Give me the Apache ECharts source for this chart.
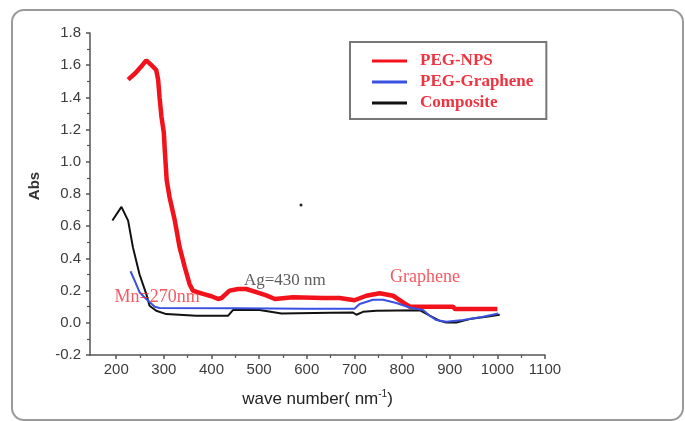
<!DOCTYPE html>
<html>
<head>
<meta charset="utf-8">
<script src="https://cdn.jsdelivr.net/npm/echarts@6/dist/echarts.min.js"></script>
<style>
html,body{margin:0;padding:0;background:#fff;}
#chart{width:685px;height:421px;}
</style>
</head>
<body>
<div id="chart"></div>
<script>
// ---- data ----
const pegNpsX = [225, 240, 252, 263, 274, 284, 288, 291, 295, 300, 302, 306, 312, 323, 333, 344, 354, 361, 382, 400, 414, 421, 438, 456, 473, 494, 515, 533, 571, 634, 669, 700, 725, 753, 781, 802, 816, 907, 911, 1000];
const pegNpsY = [1.51, 1.55, 1.59, 1.63, 1.60, 1.57, 1.51, 1.40, 1.28, 1.18, 1.07, 0.885, 0.78, 0.635, 0.47, 0.345, 0.24, 0.20, 0.18, 0.165, 0.148, 0.154, 0.20, 0.21, 0.21, 0.19, 0.17, 0.148, 0.158, 0.154, 0.154, 0.14, 0.168, 0.183, 0.168, 0.127, 0.10, 0.10, 0.085, 0.085];

const pegGrapheneX = [230, 239, 249, 263, 281, 291, 450, 600, 700, 711, 739, 760, 788, 816, 844, 858, 872, 893, 928, 970, 1002];
const pegGrapheneY = [0.32, 0.26, 0.19, 0.148, 0.10, 0.092, 0.09, 0.088, 0.087, 0.117, 0.143, 0.143, 0.123, 0.095, 0.079, 0.044, 0.017, 0.006, 0.017, 0.037, 0.058];

const compositeX = [192, 211, 225, 235, 249, 263, 270, 284, 305, 368, 435, 445, 501, 547, 650, 697, 704, 718, 746, 837, 858, 879, 893, 914, 942, 977, 1005];
const compositeY = [0.635, 0.72, 0.635, 0.47, 0.30, 0.18, 0.106, 0.075, 0.054, 0.044, 0.044, 0.079, 0.079, 0.058, 0.062, 0.064, 0.05, 0.068, 0.075, 0.078, 0.044, 0.012, 0.002, 0.002, 0.023, 0.037, 0.05];

const seriesNames = ['PEG-NPS', 'PEG-Graphene', 'Composite'];
const xTickLabels = [200, 300, 400, 500, 600, 700, 800, 900, 1000, 1100];
const xMinorTicks = [250, 350, 450, 550, 650, 750, 850, 950, 1050];

const annoText = ['Ag=430 nm', 'Mn=270nm', 'Graphene'];
const annoX = [554, 286, 848];
const annoY = [0.262, 0.156, 0.28];

// ---- build ----
function pairs(xs, ys) { return xs.map((x, i) => [x, ys[i]]); }

const colors = ['#f2121c', '#3a50e0', '#111111'];
const chart = echarts.init(document.getElementById('chart'));
const axisColor = '#555';
const tickFont = { fontFamily: 'Liberation Sans', fontSize: 15, color: '#3c3c3c' };
const option = {
  animation: false,
  backgroundColor: '#fff',
  grid: { left: 90, right: 140, top: 33, bottom: 66, containLabel: false },
  legend: {
    orient: 'vertical',
    left: 350, top: 42,
    padding: [9, 13, 6, 22],
    borderColor: '#777', borderWidth: 2,
    itemWidth: 35, itemHeight: 3, itemGap: 1,
    data: seriesNames.map((n, i) => ({ name: n, icon: 'rect', itemStyle: { color: colors[i] } })),
    textStyle: {
      fontFamily: 'Liberation Serif', fontWeight: 'bold', fontSize: 17,
      color: '#ee3440', lineHeight: 20, padding: [0, 0, 0, 8]
    }
  },
  xAxis: [{
    type: 'value', min: 145, max: 1100,
    name: '{a|wave number( nm}{s|-1}{a|)}',
    nameLocation: 'middle', nameGap: 34,
    nameTextStyle: {
      rich: {
        a: { fontFamily: 'Liberation Sans', fontSize: 17, color: '#222', lineHeight: 20 },
        s: { fontFamily: 'Liberation Sans', fontSize: 10, color: '#222', verticalAlign: 'top', lineHeight: 20 }
      }
    },
    axisLine: { show: true, onZero: false, lineStyle: { color: axisColor, width: 1.5 } },
    axisTick: { show: true, length: 4, customValues: xTickLabels, lineStyle: { color: axisColor, width: 1.5 } },
    axisLabel: Object.assign({ customValues: xTickLabels, margin: 7, formatter: v => String(v) }, tickFont),
    splitLine: { show: false }
  }, {
    type: 'value', min: 145, max: 1100, position: 'bottom',
    axisLine: { show: false, onZero: false },
    axisTick: { show: true, length: 3, customValues: xMinorTicks, lineStyle: { color: axisColor, width: 1.2 } },
    axisLabel: { show: false },
    splitLine: { show: false }
  }],
  yAxis: {
    type: 'value', min: -0.2, max: 1.8, interval: 0.2,
    name: 'Abs', nameLocation: 'middle', nameGap: 48,
    nameTextStyle: { fontFamily: 'Liberation Sans', fontWeight: 'bold', fontSize: 15, color: '#333', padding: [0, 0, 0, 16] },
    axisLine: { show: true, onZero: false, lineStyle: { color: axisColor, width: 1.5 } },
    axisTick: { show: true, length: 4, lineStyle: { color: axisColor, width: 1.5 } },
    minorTick: { show: true, splitNumber: 2, length: 3, lineStyle: { color: axisColor, width: 1.2 } },
    axisLabel: Object.assign({ margin: 9, formatter: v => v.toFixed(1) }, tickFont),
    splitLine: { show: false }
  },
  series: [
    { name: seriesNames[0], type: 'line', data: pairs(pegNpsX, pegNpsY), showSymbol: false, symbol: 'none',
      lineStyle: { color: colors[0], width: 4.5 }, itemStyle: { color: colors[0] }, z: 3 },
    { name: seriesNames[1], type: 'line', data: pairs(pegGrapheneX, pegGrapheneY), showSymbol: false, symbol: 'none',
      lineStyle: { color: colors[1], width: 2 }, itemStyle: { color: colors[1] }, z: 4 },
    { name: seriesNames[2], type: 'line', data: pairs(compositeX, compositeY), showSymbol: false, symbol: 'none',
      lineStyle: { color: colors[2], width: 2 }, itemStyle: { color: colors[2] }, z: 2 },
    { type: 'scatter', symbolSize: 0, silent: true, z: 6,
      data: annoText.map((t, i) => ({
        value: [annoX[i], annoY[i]],
        label: {
          show: true, position: 'inside', formatter: t,
          fontFamily: 'Liberation Serif', fontSize: i === 0 ? 17 : 18,
          color: i === 0 ? '#333' : '#f0303a'
        }
      }))
    }
  ],
  graphic: [
    { type: 'rect', shape: { x: 12, y: 10, width: 671, height: 410, r: 12 },
      style: { fill: 'none', stroke: '#9a9a9a', lineWidth: 2 }, silent: true, z: 0 },
    { type: 'circle', shape: { cx: 301, cy: 205, r: 1.5 }, style: { fill: '#222' }, silent: true }
  ]
};
chart.setOption(option);
</script>
</body>
</html>
